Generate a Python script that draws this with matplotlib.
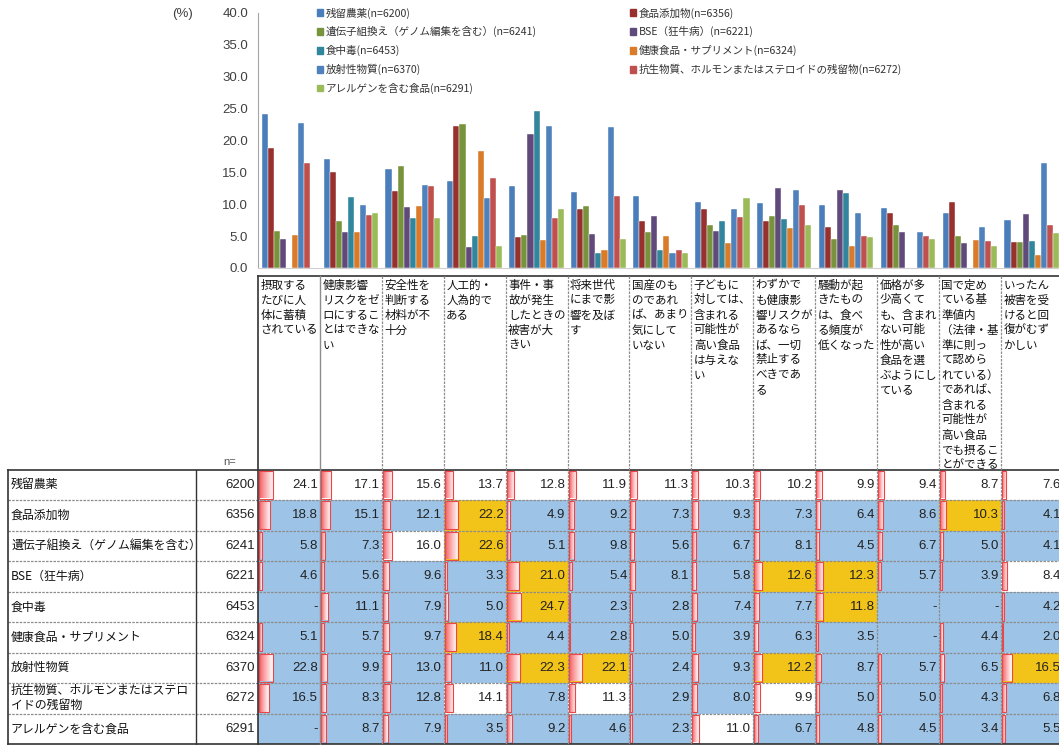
#!/usr/bin/env python3

import numpy as np
import matplotlib.pyplot as plt
from matplotlib.patches import Rectangle, Patch

plt.rcParams['font.family'] = ['Noto Sans CJK JP', 'DejaVu Sans']
NUMFONT = ['Liberation Sans', 'DejaVu Sans']

# --- data -----------------------------------------------------------------
items = ['残留農薬', '食品添加物', '遺伝子組換え（ゲノム編集を含む）', 'BSE（狂牛病）',
         '食中毒', '健康食品・サプリメント', '放射性物質',
         '抗生物質、ホルモンまたはステロイドの残留物', 'アレルゲンを含む食品']
row_labels = ['残留農薬', '食品添加物', '遺伝子組換え（ゲノム編集を含む）', 'BSE（狂牛病）',
              '食中毒', '健康食品・サプリメント', '放射性物質',
              '抗生物質、ホルモンまたはステロ\nイドの残留物', 'アレルゲンを含む食品']
n_values = [6200, 6356, 6241, 6221, 6453, 6324, 6370, 6272, 6291]

headers = [
    ['摂取する', 'たびに人', '体に蓄積', 'されている'],
    ['健康影響', 'リスクをゼ', 'ロにするこ', 'とはできな', 'い'],
    ['安全性を', '判断する', '材料が不', '十分'],
    ['人工的・', '人為的で', 'ある'],
    ['事件・事', '故が発生', 'したときの', '被害が大', 'きい'],
    ['将来世代', 'にまで影', '響を及ぼ', 'す'],
    ['国産のも', 'のであれ', 'ば、あまり', '気にして', 'いない'],
    ['子どもに', '対しては、', '含まれる', '可能性が', '高い食品', 'は与えな', 'い'],
    ['わずかで', 'も健康影', '響リスクが', 'あるなら', 'ば、一切', '禁止する', 'べきであ', 'る'],
    ['騒動が起', 'きたもの', 'は、食べ', 'る頻度が', '低くなった'],
    ['価格が多', '少高くて', 'も、含まれ', 'ない可能', '性が高い', '食品を選', 'ぶようにし', 'ている'],
    ['国で定め', 'ている基', '準値内', '（法律・基', '準に則っ', 'て認めら', 'れている）',
     'であれば、', '含まれる', '可能性が', '高い食品', 'でも摂るこ', 'とができる'],
    ['いったん', '被害を受', 'けると回', '復がむず', 'かしい'],
]

nan = np.nan
values = np.array([
    [24.1, 17.1, 15.6, 13.7, 12.8, 11.9, 11.3, 10.3, 10.2, 9.9, 9.4, 8.7, 7.6],
    [18.8, 15.1, 12.1, 22.2, 4.9, 9.2, 7.3, 9.3, 7.3, 6.4, 8.6, 10.3, 4.1],
    [5.8, 7.3, 16.0, 22.6, 5.1, 9.8, 5.6, 6.7, 8.1, 4.5, 6.7, 5.0, 4.1],
    [4.6, 5.6, 9.6, 3.3, 21.0, 5.4, 8.1, 5.8, 12.6, 12.3, 5.7, 3.9, 8.4],
    [nan, 11.1, 7.9, 5.0, 24.7, 2.3, 2.8, 7.4, 7.7, 11.8, nan, nan, 4.2],
    [5.1, 5.7, 9.7, 18.4, 4.4, 2.8, 5.0, 3.9, 6.3, 3.5, nan, 4.4, 2.0],
    [22.8, 9.9, 13.0, 11.0, 22.3, 22.1, 2.4, 9.3, 12.2, 8.7, 5.7, 6.5, 16.5],
    [16.5, 8.3, 12.8, 14.1, 7.8, 11.3, 2.9, 8.0, 9.9, 5.0, 5.0, 4.3, 6.8],
    [nan, 8.7, 7.9, 3.5, 9.2, 4.6, 2.3, 11.0, 6.7, 4.8, 4.5, 3.4, 5.5],
])

# cell highlight: W = white, B = blue, Y = yellow
cell_flags = [
    'WWWWWWWWWWWWW',
    'BBBYBBBBBBBYB',
    'BBWYBBBBBBBBB',
    'BBBBYBBBYYBBW',
    'BBBBYBBBBYBBB',
    'BBBYBBBBBBBBB',
    'BBBBYYBBYBBBY',
    'BBBWBWBBWBBBB',
    'BBBBBBBWBBBBB',
]

bar_colors = ['#4A7EBB', '#98302E', '#77933C', '#604A7B', '#31859C',
              '#D97B29', '#4F81BD', '#C0504D', '#9BBB59']
fill = {'W': 'white', 'B': '#9DC3E6', 'Y': '#F2C318'}

# --- layout (pixels) ------------------------------------------------------
W, H = 1059, 745
X0, CW = 258, 61.9
HEAD_TOP, HEAD_BOT, RH = 275.5, 469.5, 30.5
n_rows, n_cols = values.shape

fig = plt.figure(figsize=(W / 100, H / 100), dpi=100)
tab = fig.add_axes([0, 0, 1, 1])
tab.axis('off')

# --- bar chart ------------------------------------------------------------
ax = fig.add_axes([X0 / W, 1 - 268 / H, (W - X0) / W, (268 - 13) / H])
ax.patch.set_alpha(0)
groups = np.arange(n_cols)
bw = 0.098
for j in range(n_rows):
    ax.bar(groups + (j - 4) * bw, values[j], bw, color=bar_colors[j],
           edgecolor='white', linewidth=0.3)
ax.set_xlim(-0.5, -0.5 + (W - X0) / CW)
ax.set_ylim(0, 40)
ax.set_yticks(np.arange(0, 40.1, 5))
ax.set_yticklabels(['%.1f' % t for t in np.arange(0, 40.1, 5)],
                   family=NUMFONT, fontsize=9.5, color='#404040')
ax.set_xticks([])
ax.tick_params(axis='y', length=0, pad=7)
for s in ['top', 'right']:
    ax.spines[s].set_visible(False)
ax.spines['left'].set_color('#A6A6A6')
ax.spines['bottom'].set_color('#D0D0D0')
fig.text(172 / W, 1 - 14 / H, '(%)', family=NUMFONT, fontsize=9.5,
         color='#404040', va='center')

# legend in two columns (row-major like the original)
handles = [Patch(color=c) for c in bar_colors]
labels = ['%s(n=%d)' % (it, n) for it, n in zip(items, n_values)]
for cols, xpos in [([0, 2, 4, 6, 8], 317), ([1, 3, 5, 7], 630)]:
    fig.legend([handles[k] for k in cols], [labels[k] for k in cols],
               loc='upper left', bbox_to_anchor=(xpos / W, 1 - 7.5 / H),
               frameon=False, fontsize=7.6, handlelength=0.6, handleheight=0.6,
               handletextpad=0.25, labelspacing=0.72, borderpad=0,
               borderaxespad=0, labelcolor='#333333')

# --- table ----------------------------------------------------------------
grad = np.ones((1, 64, 4))
red = np.array([246, 80, 84]) / 255
t = np.linspace(0, 1, 64)[:, None] ** 0.8
grad[0, :, :3] = red * (1 - t) + np.array([1, 1, 1]) * t

for r in range(n_rows):
    top = HEAD_BOT + r * RH
    yc = top + RH / 2
    lines = row_labels[r].split('\n')
    for k, ln in enumerate(lines):
        tab.text(11, yc + (k - (len(lines) - 1) / 2) * 15, ln, fontsize=8.6,
                 va='center', ha='left', color='#111111')
    tab.text(255, yc, str(n_values[r]), family=NUMFONT, fontsize=9.5,
             va='center', ha='right', color='#222222')
    for c in range(n_cols):
        left = X0 + c * CW
        tab.add_patch(Rectangle((left, top), CW, RH,
                                fc=fill[cell_flags[r][c]], ec='none', zorder=1))
        v = values[r, c]
        if np.isnan(v):
            txt = '-'
        else:
            txt = '%.1f' % v
            bwid = v * 0.6
            tab.imshow(grad, extent=(left + 1, left + 1 + bwid, top + RH - 1.5, top + 1),
                       aspect='auto', interpolation='bilinear', zorder=3)
            tab.add_patch(Rectangle((left + 1, top + 1), bwid, RH - 2.5, fill=False,
                                    ec='#EE4448', lw=0.8, zorder=4))
        tab.text(left + CW - 2, yc, txt, family=NUMFONT, fontsize=9.5,
                 va='center', ha='right', color='#222222', zorder=5)

# header texts
for c in range(n_cols):
    left = X0 + c * CW
    for k, ln in enumerate(headers[c]):
        tab.text(left + 2.5, 285 + k * 15, ln, fontsize=8.3, va='center',
                 ha='left', color='#111111')
tab.text(236, 462, 'n=', family=NUMFONT, fontsize=8, ha='right', va='center',
         color='#555555')

# grid lines
dark, grey = '#333333', '#8C8C8C'
for r in range(1, n_rows):
    y = HEAD_BOT + r * RH
    tab.plot([8, W], [y, y], color=grey, lw=0.9, ls=(0, (2, 1)), zorder=6)
tab.plot([8, W], [HEAD_BOT, HEAD_BOT], color=dark, lw=1.2, zorder=6)
tab.plot([8, W], [H - 1, H - 1], color=dark, lw=1.2, zorder=6)
tab.plot([X0, W], [HEAD_TOP, HEAD_TOP], color=dark, lw=1.2, zorder=6)
tab.plot([8, 8], [HEAD_BOT, H - 1], color=dark, lw=1.2, zorder=6)
tab.plot([196, 196], [HEAD_BOT, H - 1], color=dark, lw=1.0, zorder=6)
tab.plot([X0, X0], [HEAD_TOP, H - 1], color=dark, lw=1.2, zorder=6)
for c in range(1, n_cols):
    x = X0 + c * CW
    if c == 1:
        tab.plot([x, x], [HEAD_TOP, H - 1], color=grey, lw=1.0, zorder=6)
    else:
        tab.plot([x, x], [HEAD_TOP, H - 1], color=grey, lw=0.9, ls=(0, (2, 1)), zorder=6)

tab.set_xlim(0, W)
tab.set_ylim(H, 0)

fig.savefig('out.png', dpi=100)
